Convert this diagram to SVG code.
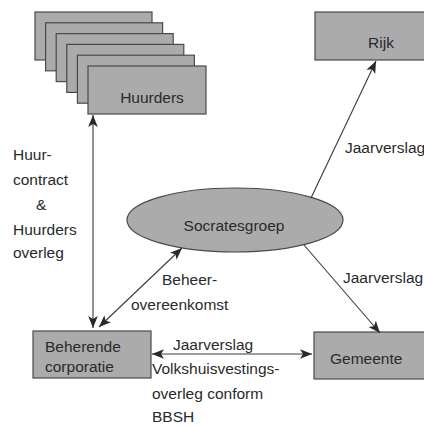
<svg xmlns="http://www.w3.org/2000/svg" width="424" height="428" viewBox="0 0 424 428">
<style>
.box{fill:#ababab;stroke:#4a4a4a;stroke-width:1.2}
.t{font-family:"Liberation Sans",Arial,sans-serif;font-size:15.5px;fill:#2a2a2a}
.c{stroke:#3a3a3a;stroke-width:1.1;fill:none}
</style>
<defs>
<marker id="ah" viewBox="0 0 10 10" refX="10" refY="5" markerWidth="12" markerHeight="12" markerUnits="userSpaceOnUse" orient="auto-start-reverse">
<path d="M0,1 L10,5 L0,9 L2.5,5 Z" fill="#2a2a2a"/>
</marker>
</defs>
<rect width="424" height="428" fill="#ffffff"/>
<g id="huurders">
<rect class="box" x="35" y="12" width="117" height="48"/>
<rect class="box" x="45.6" y="22.8" width="117" height="48"/>
<rect class="box" x="56.2" y="33.6" width="117" height="48"/>
<rect class="box" x="66.8" y="44.4" width="117" height="48"/>
<rect class="box" x="77.4" y="55.2" width="117" height="48"/>
<rect class="box" x="88" y="66" width="118" height="48"/>
<text class="t" x="152" y="103" text-anchor="middle">Huurders</text>
</g>
<g id="rijk">
<rect class="box" x="315" y="12" width="112" height="48"/>
<text class="t" x="381" y="48" text-anchor="middle">Rijk</text>
</g>
<g id="socratesgroep">
<ellipse class="box" cx="235" cy="220" rx="108" ry="32"/>
<text class="t" x="234" y="231" text-anchor="middle">Socratesgroep</text>
</g>
<g id="beherende">
<rect class="box" x="33" y="331" width="118" height="47"/>
<text class="t" x="45" y="352">Beherende</text>
<text class="t" x="45" y="372">corporatie</text>
</g>
<g id="gemeente">
<rect class="box" x="314" y="332" width="113" height="47"/>
<text class="t" x="330" y="364">Gemeente</text>
</g>
<g id="connectors">
<line class="c" x1="93" y1="115" x2="93" y2="328" marker-start="url(#ah)" marker-end="url(#ah)"/>
<line class="c" x1="99" y1="327" x2="182" y2="248" marker-start="url(#ah)" marker-end="url(#ah)"/>
<line class="c" x1="311" y1="198" x2="376" y2="61" marker-end="url(#ah)"/>
<line class="c" x1="304" y1="245" x2="380" y2="333" marker-end="url(#ah)"/>
<line class="c" x1="152" y1="354" x2="312" y2="354" marker-start="url(#ah)" marker-end="url(#ah)"/>
</g>
<g id="labels">
<text class="t" x="13" y="160">Huur-</text>
<text class="t" x="13" y="185">contract</text>
<text class="t" x="36" y="210">&amp;</text>
<text class="t" x="13" y="235">Huurders</text>
<text class="t" x="13" y="258">overleg</text>
<text class="t" x="345" y="153">Jaarverslag</text>
<text class="t" x="343" y="283">Jaarverslag</text>
<text class="t" x="162" y="285">Beheer-</text>
<text class="t" x="131" y="310">overeenkomst</text>
<text class="t" x="173" y="350">Jaarverslag</text>
<text class="t" x="152" y="374">Volkshuisvestings-</text>
<text class="t" x="152" y="399">overleg conform</text>
<text class="t" x="152" y="422">BBSH</text>
</g>
</svg>
